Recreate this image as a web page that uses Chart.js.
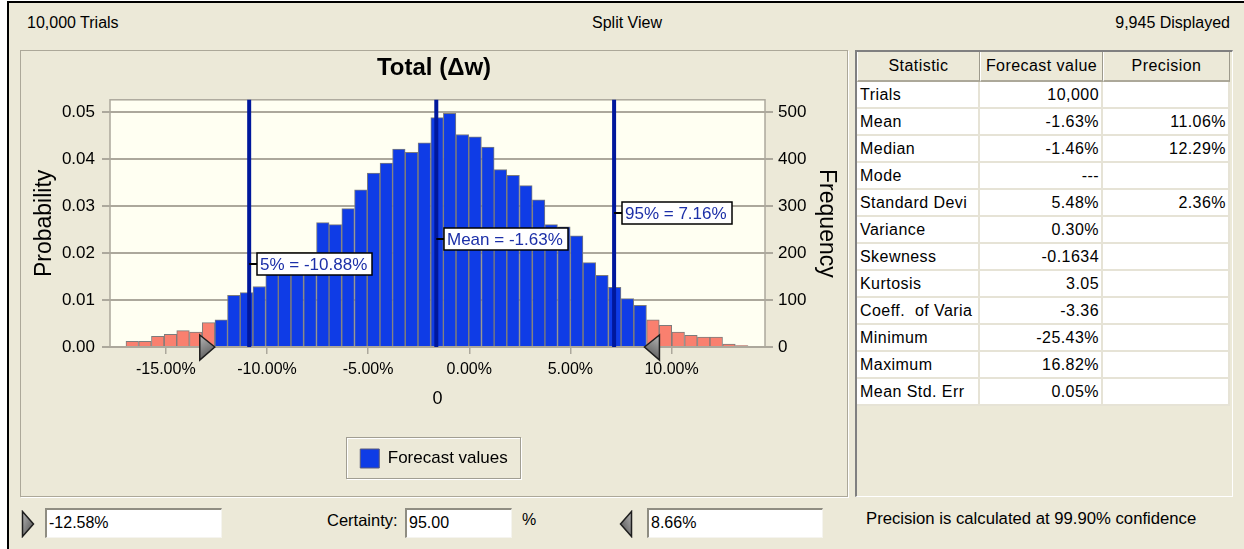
<!DOCTYPE html>
<html>
<head>
<meta charset="utf-8">
<title>Total (Δw)</title>
<script src="https://cdn.jsdelivr.net/npm/chart.js@4.4.1/dist/chart.umd.min.js"></script>
<style>
  body { margin: 0; width: 1244px; height: 549px; position: relative; overflow: hidden; background: #fff;
         font-family: "Liberation Sans", Arial, sans-serif; font-size: 16px; color: #000; }
  #janela { position: absolute; left: 7px; top: 1px; width: 1237px; height: 548px; background: #ece9d8;
            border-left: 2px solid #000; border-top: 2px solid #000; box-sizing: border-box; }
  .abs { position: absolute; white-space: pre; line-height: 20px; }
  #painelGrafico { position: absolute; left: 20px; top: 50px; width: 828px; height: 447px; box-sizing: border-box;
                   border: 1px solid #aca899; box-shadow: 1px 1px 0 #fff; }
  #caixaGrafico { position: absolute; left: 21px; top: 51px; width: 826px; height: 445px; }
  #painelTabela { position: absolute; left: 855px; top: 50px; width: 378px; height: 447px; box-sizing: border-box;
                  border-left: 2px solid #808080; border-top: 2px solid #808080; border-right: 1px solid #fff; border-bottom: 1px solid #fff; }
  #tabela { position: absolute; left: 857px; top: 52px; display: grid; grid-template-columns: 123px 123px 127px;
            grid-template-rows: 30px; grid-auto-rows: 27px; }
  #tabela div { box-sizing: border-box; white-space: pre; overflow: hidden; line-height: 25px; letter-spacing: 0.45px;
                background: #fff; border-right: 2px solid #e6e3d6; border-bottom: 2px solid #e6e3d6; padding: 0 3px; }
  #tabela div.cab { background: #ece9d8; text-align: center; line-height: 28px; border-left: 1px solid #fff; border-right: 1px solid #9d9a8c; border-bottom: 2px solid #aca899; }
  #tabela div.num { text-align: right; padding-right: 2px; }
  .caixa { position: absolute; top: 508px; height: 30px; box-sizing: border-box; background: #fff; padding-left: 2px;
           border-top: 2px solid #8f8d82; border-left: 2px solid #8f8d82; border-right: 1px solid #f5f4ef; border-bottom: 1px solid #f5f4ef;
           line-height: 26px; white-space: pre; }
</style>
</head>
<body>
<div id="janela"></div>

<div class="abs" id="txtEnsaios" style="left:27px;top:13px"></div>
<div class="abs" style="left:527px;top:13px;width:200px;text-align:center">Split View</div>
<div class="abs" id="txtExibidos" style="left:1030px;top:13px;width:200px;text-align:right"></div>

<div id="painelGrafico"></div>
<div id="caixaGrafico"><canvas id="graficoPrevisao" width="826" height="445"></canvas></div>

<div id="painelTabela"></div>
<div id="tabela"></div>

<svg class="abs" style="left:21px;top:510px" width="14" height="28">
  <defs><linearGradient id="gA" x1="0" y1="0" x2="1" y2="1"><stop offset="0" stop-color="#b4b4b4"/><stop offset="1" stop-color="#4a4a4a"/></linearGradient></defs>
  <polygon points="1.5,1.5 12.5,14 1.5,26.5" fill="url(#gA)" stroke="#1e1e1e" stroke-width="1.5"/>
</svg>
<div class="caixa" id="caixaInferior" style="left:45px;width:177px"></div>
<div class="abs" style="left:327px;top:510px;font-size:16.5px">Certainty:</div>
<div class="caixa" id="caixaCerteza" style="left:405px;width:107px"></div>
<div class="abs" style="left:522px;top:510px">%</div>
<svg class="abs" style="left:619px;top:510px" width="14" height="28">
  <defs><linearGradient id="gB" x1="1" y1="0" x2="0" y2="1"><stop offset="0" stop-color="#b4b4b4"/><stop offset="1" stop-color="#4a4a4a"/></linearGradient></defs>
  <polygon points="12.5,1.5 1.5,14 12.5,26.5" fill="url(#gB)" stroke="#1e1e1e" stroke-width="1.5"/>
</svg>
<div class="caixa" id="caixaSuperior" style="left:647px;width:176px"></div>
<div class="abs" id="txtConfianca" style="left:866px;top:509px;font-size:16.7px"></div>

<script>
// classes do histograma (centro de cada barra, em %)
var centrosClasses = [
  -16.66, -16.03, -15.40, -14.77, -14.15, -13.52, -12.89, -12.26, -11.64, -11.01,
  -10.38, -9.75, -9.13, -8.50, -7.87, -7.24, -6.62, -5.99, -5.36, -4.73,
  -4.10, -3.48, -2.85, -2.22, -1.59, -0.97, -0.34, 0.29, 0.92, 1.54,
  2.17, 2.80, 3.43, 4.05, 4.68, 5.31, 5.94, 6.56, 7.19, 7.82,
  8.45, 9.08, 9.70, 10.33, 10.96, 11.59, 12.21, 12.84, 13.47
];
var probabilidades = [
  0.0012, 0.0012, 0.0023, 0.0027, 0.0035, 0.0032, 0.0052, 0.0058, 0.0110, 0.0116,
  0.0129, 0.0160, 0.0172, 0.0185, 0.0198, 0.0265, 0.0261, 0.0295, 0.0335, 0.0371,
  0.0392, 0.0422, 0.0415, 0.0435, 0.0489, 0.0498, 0.0453, 0.0448, 0.0426, 0.0378,
  0.0366, 0.0344, 0.0314, 0.0261, 0.0256, 0.0237, 0.0180, 0.0153, 0.0127, 0.0103,
  0.0089, 0.0058, 0.0046, 0.0032, 0.0025, 0.0021, 0.0021, 0.0006, 0.0003
];
var ticksX = [-15, -10, -5, 0, 5, 10];
var ticksProb = [0, 0.01, 0.02, 0.03, 0.04, 0.05];
var ticksFreq = [0, 100, 200, 300, 400, 500];

var marcadores = [
  { rotulo: "5%", valor: -10.88 },
  { rotulo: "Mean", valor: -1.63 },
  { rotulo: "95%", valor: 7.16 }
];
var limitesCerteza = [-12.58, 8.66];
var certeza = 95.00;
var totalEnsaios = "10,000";
var exibidos = "9,945";
var confianca = "99.90%";

var estatisticas = ["Trials", "Mean", "Median", "Mode", "Standard Devi", "Variance", "Skewness",
  "Kurtosis", "Coeff.  of Varia", "Minimum", "Maximum", "Mean Std. Err"];
var valoresPrevisao = ["10,000", "-1.63%", "-1.46%", "---", "5.48%", "0.30%", "-0.1634",
  "3.05", "-3.36", "-25.43%", "16.82%", "0.05%"];
var precisoes = ["", "11.06%", "12.29%", "", "2.36%", "", "", "", "", "", "", ""];

var azul = "#0f3ce6";
var salmao = "#f9806f";
var cinzaGrade = "#aca89c";

// textos fora do grafico
document.getElementById("txtEnsaios").textContent = totalEnsaios + " Trials";
document.getElementById("txtExibidos").textContent = exibidos + " Displayed";
document.getElementById("caixaInferior").textContent = limitesCerteza[0].toFixed(2) + "%";
document.getElementById("caixaSuperior").textContent = limitesCerteza[1].toFixed(2) + "%";
document.getElementById("caixaCerteza").textContent = certeza.toFixed(2);
document.getElementById("txtConfianca").textContent = "Precision is calculated at " + confianca + " confidence";

var tabela = document.getElementById("tabela");
function celula(texto, classe) {
  var c = document.createElement("div");
  if (classe) c.className = classe;
  c.textContent = texto;
  tabela.appendChild(c);
}
celula("Statistic", "cab");
celula("Forecast value", "cab");
celula("Precision", "cab");
for (var i = 0; i < estatisticas.length; i++) {
  celula(estatisticas[i]);
  celula(valoresPrevisao[i], "num");
  celula(precisoes[i], "num");
}

Chart.defaults.font.family = "'Liberation Sans', Arial, sans-serif";
Chart.defaults.color = "#000";

function corBarra(contexto) {
  if (contexto.type !== "data") return azul;
  var x = centrosClasses[contexto.dataIndex];
  if (x < limitesCerteza[0] || x > limitesCerteza[1]) return salmao;
  return azul;
}

var pluginFundo = {
  id: "fundo",
  beforeDraw: function (chart) {
    var a = chart.chartArea;
    chart.ctx.save();
    chart.ctx.fillStyle = "#fffff2";
    chart.ctx.fillRect(a.left, a.top, a.right - a.left, a.bottom - a.top);
    chart.ctx.restore();
  }
};

function desenharTriangulo(ctx, ponta, yc, lado) {
  var g = ctx.createLinearGradient(ponta + lado * 15, yc - 12, ponta, yc + 13);
  g.addColorStop(0, "#b8b8b8");
  g.addColorStop(1, "#484848");
  ctx.beginPath();
  ctx.moveTo(ponta, yc);
  ctx.lineTo(ponta + lado * 15, yc - 12);
  ctx.lineTo(ponta + lado * 15, yc + 13);
  ctx.closePath();
  ctx.fillStyle = g;
  ctx.fill();
  ctx.strokeStyle = "#1e1e1e";
  ctx.lineWidth = 1.5;
  ctx.stroke();
}

var pluginMarcadores = {
  id: "marcadores",
  afterDatasetsDraw: function (chart) {
    var ctx = chart.ctx;
    var a = chart.chartArea;
    var escX = chart.scales.x;
    var escY = chart.scales.y;
    var alturas = [0.0177, 0.0230, 0.0285]; // altura dos rotulos (em probabilidade)
    ctx.save();
    ctx.strokeStyle = cinzaGrade;
    ctx.lineWidth = 1.5;
    ctx.strokeRect(a.left, a.top, a.right - a.left, a.bottom - a.top);

    marcadores.forEach(function (m) {
      var px = escX.getPixelForValue(m.valor);
      ctx.strokeStyle = "#00189c";
      ctx.lineWidth = 4;
      ctx.beginPath();
      ctx.moveTo(px, a.top);
      ctx.lineTo(px, a.bottom);
      ctx.stroke();
    });

    ctx.font = "17px 'Liberation Sans', Arial, sans-serif";
    ctx.textBaseline = "middle";
    marcadores.forEach(function (m, i) {
      var px = escX.getPixelForValue(m.valor);
      var py = Math.round(escY.getPixelForValue(alturas[i]));
      var texto = m.rotulo + " = " + m.valor.toFixed(2) + "%";
      var larg = Math.round(ctx.measureText(texto).width) + 8;
      var esq = Math.round(px + 8);
      ctx.strokeStyle = "#000";
      ctx.lineWidth = 2;
      ctx.beginPath();
      ctx.moveTo(px, py);
      ctx.lineTo(esq, py);
      ctx.stroke();
      ctx.fillStyle = "#fff";
      ctx.fillRect(esq, py - 11, larg, 22);
      ctx.lineWidth = 1.5;
      ctx.strokeRect(esq, py - 11, larg, 22);
      ctx.fillStyle = "#1c2fa8";
      ctx.fillText(texto, esq + 3, py + 1);
    });

    desenharTriangulo(ctx, escX.getPixelForValue(limitesCerteza[0]), a.bottom, -1);
    desenharTriangulo(ctx, escX.getPixelForValue(limitesCerteza[1]), a.bottom, 1);
    ctx.restore();
  },
  afterDraw: function (chart) {
    var caixa = chart.legend.legendHitBoxes[0];
    if (!caixa) return;
    var ctx = chart.ctx;
    var x0 = Math.round(caixa.left - 14) + 0.5;
    var y0 = Math.round(caixa.top - 12) + 0.5;
    var x1 = Math.round(caixa.left + caixa.width + 12) + 0.5;
    var y1 = Math.round(caixa.top + caixa.height + 10) + 0.5;
    ctx.save();
    ctx.lineWidth = 1;
    ctx.strokeStyle = "#fff";
    ctx.strokeRect(x0 + 1, y0 + 1, x1 - x0, y1 - y0);
    ctx.strokeStyle = "#a19e92";
    ctx.strokeRect(x0, y0, x1 - x0, y1 - y0);
    ctx.restore();
  }
};

function fixarTicks(lista) {
  return function (escala) {
    escala.ticks = lista.map(function (v) { return { value: v }; });
  };
}

var configPrevisao = {
  type: "bar",
  data: {
    datasets: [
      {
        label: "Forecast values",
        data: centrosClasses.map(function (c, i) { return { x: c, y: probabilidades[i] }; }),
        backgroundColor: corBarra,
        borderColor: "#7c7c7c",
        borderWidth: 1,
        borderSkipped: "bottom",
        barPercentage: 1,
        categoryPercentage: 1,
        yAxisID: "y"
      }
    ]
  },
  options: {
    animation: false,
    responsive: false,
    maintainAspectRatio: false,
    layout: { padding: { left: 0, right: 0, top: 0, bottom: 18 } },
    plugins: {
      tooltip: { enabled: false },
      title: {
        display: true,
        text: "Total (Δw)",
        font: { size: 24, weight: "bold" },
        color: "#000",
        padding: { top: 3, bottom: 17 }
      },
      legend: {
        position: "bottom",
        labels: {
          boxWidth: 19,
          boxHeight: 19,
          padding: 10,
          font: { size: 17 },
          color: "#000",
          generateLabels: function (chart) {
            var itens = Chart.defaults.plugins.legend.labels.generateLabels(chart);
            itens.forEach(function (item) {
              item.fillStyle = azul;
              item.strokeStyle = "#5a5a7a";
              item.lineWidth = 1;
            });
            return itens;
          }
        }
      }
    },
    scales: {
      x: {
        type: "linear",
        min: -17.76,
        max: 14.62,
        offset: false,
        afterBuildTicks: fixarTicks(ticksX),
        afterFit: function (escala) { escala.height = 92; },
        ticks: {
          autoSkip: false,
          maxRotation: 0,
          padding: 6,
          font: { size: 16 },
          color: "#000",
          callback: function (v) { return v.toFixed(2) + "%"; }
        },
        grid: { drawOnChartArea: false, drawTicks: true, tickLength: 7, color: cinzaGrade, lineWidth: 1.5, offset: false },
        border: { display: false },
        title: { display: true, text: "0", font: { size: 18 }, color: "#000", padding: { top: 0, bottom: 29 } }
      },
      y: {
        position: "left",
        min: 0,
        max: 0.0527,
        afterBuildTicks: fixarTicks(ticksProb),
        afterFit: function (escala) { escala.width = 89; },
        ticks: {
          padding: 7,
          font: { size: 17 },
          color: "#000",
          callback: function (v) { return v.toFixed(2); }
        },
        grid: { color: cinzaGrade, lineWidth: 2, tickLength: 8 },
        border: { display: false },
        title: { display: true, text: "Probability", font: { size: 23 }, color: "#000", padding: { top: 10, bottom: 0 } }
      },
      y2: {
        position: "right",
        min: 0,
        max: 527,
        afterBuildTicks: fixarTicks(ticksFreq),
        afterFit: function (escala) { escala.width = 82; },
        ticks: { padding: 5, font: { size: 17 }, color: "#000" },
        grid: { drawOnChartArea: false, color: cinzaGrade, lineWidth: 2, tickLength: 8 },
        border: { display: false },
        title: { display: true, text: "Frequency", font: { size: 23 }, color: "#000", padding: { top: 7, bottom: 0 } }
      }
    }
  },
  plugins: [pluginFundo, pluginMarcadores]
};

var graficoPrevisao = new Chart(document.getElementById("graficoPrevisao"), configPrevisao);
</script>
</body>
</html>
